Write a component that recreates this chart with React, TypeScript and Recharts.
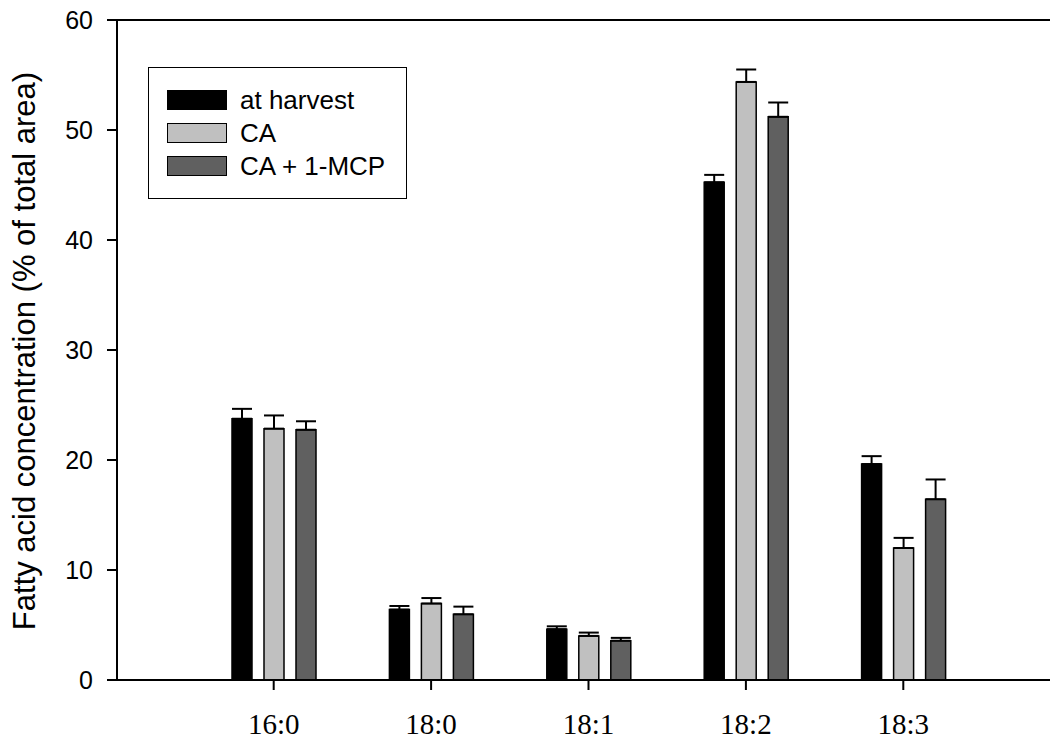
import { BarChart, Bar, XAxis, YAxis, ErrorBar, ReferenceLine, Legend } from 'recharts';

// fatty acid classes on the x axis
const categories = ['16:0', '18:0', '18:1', '18:2', '18:3'];

// mean values (% of total area) and upper error (SE)
const atHarvest = [23.75, 6.4, 4.62, 45.25, 19.63];
const atHarvestErr = [0.9, 0.33, 0.26, 0.67, 0.72];
const ca = [22.85, 6.95, 4.01, 54.37, 12.0];
const caErr = [1.2, 0.5, 0.3, 1.13, 0.92];
const caMcp = [22.75, 5.97, 3.57, 51.2, 16.43];
const caMcpErr = [0.77, 0.7, 0.26, 1.3, 1.8];

const yTicks = [0, 10, 20, 30, 40, 50, 60];

const SERIES = [
  { key: 'harvest', name: 'at harvest', color: '#000000' },
  { key: 'ca', name: 'CA', color: '#c0c0c0' },
  { key: 'mcp', name: 'CA + 1-MCP', color: '#606060' },
];

// only the upper half of the error bar is drawn
const data = categories.map((name, i) => ({
  name,
  harvest: atHarvest[i],
  harvestErr: [0, atHarvestErr[i]],
  ca: ca[i],
  caErr: [0, caErr[i]],
  mcp: caMcp[i],
  mcpErr: [0, caMcpErr[i]],
}));

const sans = '"Liberation Sans", Arial, sans-serif';
const serif = '"Liberation Serif", "Times New Roman", serif';

function LegendBox() {
  return (
    <div
      style={{
        width: 257,
        height: 130,
        border: '1px solid #000',
        background: '#fff',
        position: 'relative',
        fontFamily: sans,
        fontSize: 26,
        color: '#000',
      }}
    >
      {SERIES.map((s, i) => (
        <div
          key={s.key}
          style={{
            position: 'absolute',
            left: 18,
            top: 21 + i * 33,
            height: 22,
            display: 'flex',
            alignItems: 'center',
            whiteSpace: 'nowrap',
          }}
        >
          <span
            style={{
              display: 'inline-block',
              width: 58,
              height: 18,
              background: s.color,
              border: '1px solid #000',
              marginRight: 13,
            }}
          />
          <span style={{ lineHeight: '22px' }}>{s.name}</span>
        </div>
      ))}
    </div>
  );
}

export default function App() {
  return (
    <div style={{ width: 1050, height: 740 }}>
      <style>{'body{margin:0}'}</style>
      <BarChart
        width={1050}
        height={740}
        data={data}
        margin={{ top: 20, right: 0, bottom: 0, left: 0 }}
        barSize={20}
        barGap={12}
      >
        <XAxis
          dataKey="name"
          height={60}
          padding={{ left: 78, right: 68 }}
          tickSize={10}
          tickMargin={23}
          axisLine={{ stroke: '#000', strokeWidth: 2 }}
          tickLine={{ stroke: '#000', strokeWidth: 2 }}
          tick={{ fill: '#000', fontFamily: serif, fontSize: 29 }}
        />
        <YAxis
          width={117}
          domain={[0, 60]}
          ticks={yTicks}
          tickSize={10}
          tickMargin={14}
          axisLine={{ stroke: '#000', strokeWidth: 2 }}
          tickLine={{ stroke: '#000', strokeWidth: 2 }}
          tick={{ fill: '#000', fontFamily: sans, fontSize: 25 }}
          label={{
            content: () => (
              <text
                transform="translate(35,351) rotate(-90)"
                textAnchor="middle"
                fontFamily={sans}
                fontSize={31}
                fill="#000"
              >
                Fatty acid concentration (% of total area)
              </text>
            ),
          }}
        />
        <ReferenceLine y={60} stroke="#000" strokeWidth={2} />
        <Legend
          layout="vertical"
          verticalAlign="middle"
          align="center"
          wrapperStyle={{ position: 'absolute', left: 148, top: 67, width: 'auto' }}
          content={() => <LegendBox />}
        />
        {SERIES.map((s) => (
          <Bar
            key={s.key}
            dataKey={s.key}
            name={s.name}
            fill={s.color}
            stroke="#000"
            strokeWidth={1.5}
            isAnimationActive={false}
          >
            <ErrorBar
              dataKey={`${s.key}Err`}
              width={10}
              stroke="#000"
              strokeWidth={2}
              direction="y"
              isAnimationActive={false}
            />
          </Bar>
        ))}
      </BarChart>
    </div>
  );
}
